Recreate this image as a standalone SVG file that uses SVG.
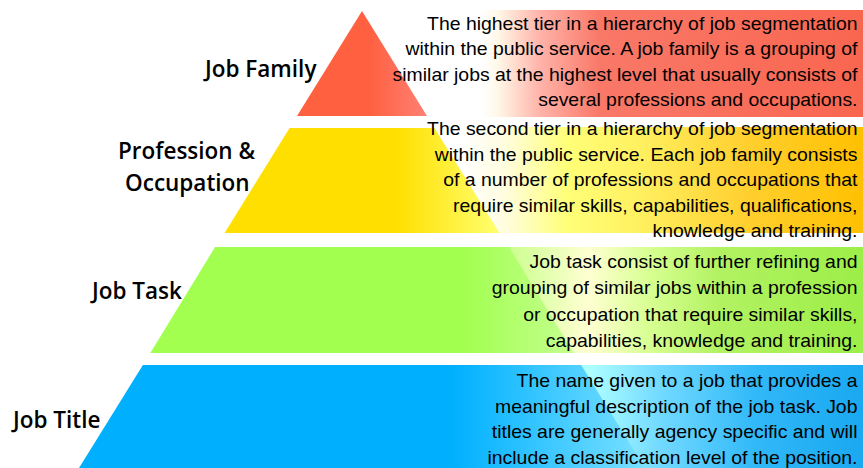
<svg xmlns="http://www.w3.org/2000/svg" width="863" height="468" viewBox="0 0 863 468">
<style>
.lbl{font-family:"Open Sans","Liberation Sans",sans-serif;font-weight:600;font-size:22.5px;fill:#000}
.desc{font-family:"Liberation Sans",Arial,sans-serif;font-size:17.5px;fill:#000;text-anchor:end}
</style>
<defs>
<linearGradient id="triR" gradientUnits="userSpaceOnUse" x1="297" y1="0" x2="427" y2="0">
<stop offset="0.55" stop-color="#fe6040"/><stop offset="1" stop-color="#ff8074"/></linearGradient>
<linearGradient id="boxR" gradientUnits="userSpaceOnUse" x1="470" y1="0" x2="863" y2="0">
<stop offset="0.03" stop-color="#ffffff"/><stop offset="0.07" stop-color="#fff8e8"/><stop offset="0.18" stop-color="#ffb2a8"/><stop offset="0.33" stop-color="#f97868"/><stop offset="1" stop-color="#f96650"/></linearGradient>
<linearGradient id="trapY" gradientUnits="userSpaceOnUse" x1="225" y1="0" x2="500" y2="0">
<stop offset="0.62" stop-color="#ffdf00"/><stop offset="1" stop-color="#ffff70"/></linearGradient>
<linearGradient id="boxY" gradientUnits="userSpaceOnUse" x1="440" y1="0" x2="863" y2="0">
<stop offset="0.05" stop-color="#ffffff"/><stop offset="0.15" stop-color="#fffde0"/><stop offset="0.3" stop-color="#ffff78"/><stop offset="0.47" stop-color="#fff060"/><stop offset="0.72" stop-color="#ffd030"/><stop offset="1" stop-color="#ffc000"/></linearGradient>
<linearGradient id="trapG" gradientUnits="userSpaceOnUse" x1="150" y1="0" x2="574" y2="0">
<stop offset="0.74" stop-color="#a2ff50"/><stop offset="1" stop-color="#c4ff90"/></linearGradient>
<linearGradient id="boxG" gradientUnits="userSpaceOnUse" x1="440" y1="0" x2="863" y2="0">
<stop offset="0" stop-color="#a0f850"/><stop offset="0.21" stop-color="#d8ffa0"/><stop offset="0.35" stop-color="#ffffd2"/><stop offset="0.5" stop-color="#d6ff90"/><stop offset="0.66" stop-color="#b2f262"/><stop offset="1" stop-color="#9cee48"/></linearGradient>
<linearGradient id="trapB" gradientUnits="userSpaceOnUse" x1="80" y1="0" x2="645" y2="0">
<stop offset="0.66" stop-color="#00b0ff"/><stop offset="1" stop-color="#7ae0ff"/></linearGradient>
<linearGradient id="boxB" gradientUnits="userSpaceOnUse" x1="440" y1="0" x2="863" y2="0">
<stop offset="0" stop-color="#10b0f8"/><stop offset="0.19" stop-color="#60d8ff"/><stop offset="0.35" stop-color="#b0ffff"/><stop offset="0.52" stop-color="#72daff"/><stop offset="0.75" stop-color="#30b8f8"/><stop offset="1" stop-color="#1aa8f0"/></linearGradient>
</defs>
<rect width="863" height="468" fill="#ffffff"/>
<g id="job-family">
<rect x="470" y="10" width="393" height="107" fill="url(#boxR)"/>
<polygon points="362,11 297,116 427,116" fill="url(#triR)"/>
<text class="lbl" x="205" y="77">Job Family</text>
<g transform="scale(1.11 1)">
<text class="desc" x="772.5" y="30">The highest tier in a hierarchy of job segmentation</text>
<text class="desc" x="772.5" y="55.5">within the public service. A job family is a grouping of</text>
<text class="desc" x="772.5" y="81">similar jobs at the highest level that usually consists of</text>
<text class="desc" x="772.5" y="106.5">several professions and occupations.</text>
</g>
</g>
<g id="profession-occupation">
<rect x="440" y="127" width="423" height="106" fill="url(#boxY)"/>
<polygon points="289.6,128 434.4,128 499.4,233 224.6,233" fill="url(#trapY)"/>
<text class="lbl" x="118" y="159">Profession &amp;</text>
<text class="lbl" x="125" y="191">Occupation</text>
<g transform="scale(1.11 1)">
<text class="desc" x="772.5" y="135.5">The second tier in a hierarchy of job segmentation</text>
<text class="desc" x="772.5" y="161">within the public service. Each job family consists</text>
<text class="desc" x="772.5" y="186.5">of a number of professions and occupations that</text>
<text class="desc" x="772.5" y="212">require similar skills, capabilities, qualifications,</text>
<text class="desc" x="772.5" y="237.5">knowledge and training.</text>
</g>
</g>
<g id="job-task">
<rect x="440" y="247" width="423" height="106" fill="url(#boxG)"/>
<polygon points="215.1,247 508.9,247 573.7,353 150.3,353" fill="url(#trapG)"/>
<text class="lbl" x="92" y="299">Job Task</text>
<g transform="scale(1.11 1)">
<text class="desc" x="772.5" y="268">Job task consist of further refining and</text>
<text class="desc" x="772.5" y="294.5">grouping of similar jobs within a profession</text>
<text class="desc" x="772.5" y="321">or occupation that require similar skills,</text>
<text class="desc" x="772.5" y="347.5">capabilities, knowledge and training.</text>
</g>
</g>
<g id="job-title">
<rect x="440" y="365" width="423" height="103" fill="url(#boxB)"/>
<polygon points="142.9,365 581.1,365 645,468 79,468" fill="url(#trapB)"/>
<text class="lbl" x="13" y="427.5">Job Title</text>
<g transform="scale(1.11 1)">
<text class="desc" x="772.5" y="387">The name given to a job that provides a</text>
<text class="desc" x="772.5" y="413">meaningful description of the job task. Job</text>
<text class="desc" x="772.5" y="438.5">titles are generally agency specific and will</text>
<text class="desc" x="772.5" y="464">include a classification level of the position.</text>
</g>
</g>
<g id="connectors"/>
</svg>
